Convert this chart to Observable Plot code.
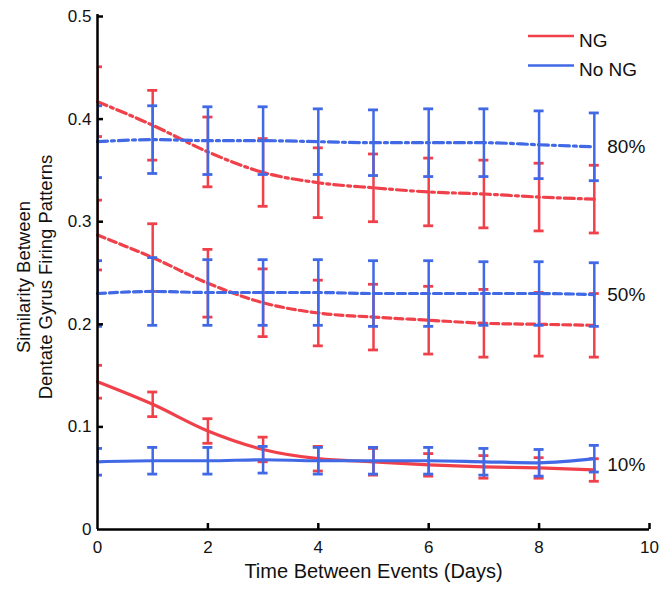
<!DOCTYPE html>
<html><head><meta charset="utf-8">
<script src="https://cdn.jsdelivr.net/npm/d3@7"></script>
<script src="https://cdn.jsdelivr.net/npm/@observablehq/plot@0.6"></script>
<style>
body{margin:0;background:#fff;}
#chart{position:relative;width:660px;height:589px;}
</style>
</head><body><div id="chart"></div>
<script>
const days = [0,1,2,3,4,5,6,7,8,9];
const groups = ["NG", "No NG"];
const levels = ["80%", "50%", "10%"];
// NG (red)
const ng80 =      [0.417,0.394,0.368,0.348,0.338,0.333,0.329,0.327,0.324,0.322];
const ng80Err =   [0.034,0.034,0.034,0.033,0.034,0.033,0.033,0.033,0.033,0.033];
const ng50 =      [0.287,0.265,0.240,0.221,0.211,0.207,0.204,0.201,0.200,0.199];
const ng50Err =   [0.034,0.033,0.033,0.033,0.032,0.032,0.033,0.033,0.031,0.031];
const ng10 =      [0.144,0.122,0.096,0.078,0.069,0.066,0.063,0.061,0.060,0.058];
const ng10Err =   [0.016,0.012,0.012,0.012,0.012,0.013,0.011,0.011,0.010,0.011];
// No NG (blue)
const noNg80 =    [0.378,0.380,0.379,0.379,0.378,0.377,0.377,0.377,0.375,0.373];
const noNg80Err = [0.035,0.033,0.033,0.033,0.032,0.032,0.033,0.033,0.033,0.033];
const noNg50 =    [0.230,0.232,0.231,0.231,0.231,0.230,0.230,0.230,0.230,0.229];
const noNg50Err = [0.032,0.033,0.032,0.032,0.032,0.032,0.032,0.031,0.031,0.031];
const noNg10 =    [0.066,0.067,0.067,0.068,0.067,0.067,0.067,0.066,0.065,0.069];
const noNg10Err = [0.013,0.013,0.013,0.013,0.013,0.013,0.013,0.013,0.013,0.013];

const xTicks = [0,2,4,6,8,10];
const yTicks = [0,0.1,0.2,0.3,0.4,0.5];
const levelLabels = ["80%", "50%", "10%"];
const levelLabelY = [0.373, 0.229, 0.063];
const xTitle = "Time Between Events (Days)";
const yTitleLines = ["Similarity Between", "Dentate Gyrus Firing Patterns"];

const colors = {"NG": "#f0414b", "No NG": "#4169e6"};
const dashes = {"80%": "10,4,3,4", "50%": "8,4", "10%": null};

const series = {
  "NG": [[ng80, ng80Err], [ng50, ng50Err], [ng10, ng10Err]],
  "No NG": [[noNg80, noNg80Err], [noNg50, noNg50Err], [noNg10, noNg10Err]]
};
const rows = [];
for (const g of groups) {
  levels.forEach((lv, li) => {
    const [m, e] = series[g][li];
    days.forEach((d, i) => rows.push({group: g, level: lv, day: d, mean: m[i], lo: m[i] - e[i], hi: m[i] + e[i]}));
  });
}

const font = "'Liberation Sans', Arial, Helvetica, sans-serif";
const marks = [];
for (const g of groups) {
  const gr = rows.filter(r => r.group === g);
  const c = colors[g];
  marks.push(Plot.ruleX(gr, {x: "day", y1: "lo", y2: "hi", stroke: c, strokeWidth: 2.5, clip: true}));
  marks.push(Plot.ruleY(gr, {y: "hi", x1: "day", x2: "day", insetLeft: -5, insetRight: -5, stroke: c, strokeWidth: 2.8, clip: true}));
  marks.push(Plot.ruleY(gr, {y: "lo", x1: "day", x2: "day", insetLeft: -5, insetRight: -5, stroke: c, strokeWidth: 2.8, clip: true}));
  for (const lv of levels) {
    marks.push(Plot.line(gr.filter(r => r.level === lv), {
      x: "day", y: "mean", stroke: c, strokeWidth: 3.2,
      strokeDasharray: dashes[lv], curve: "monotone-x"
    }));
  }
}
// level labels
marks.push(Plot.text(levelLabels, {
  x: () => days[days.length - 1], y: (d, i) => levelLabelY[i], text: d => d,
  dx: 13, textAnchor: "start", fontSize: 19, fill: "#111"
}));
// axes lines and inward ticks
marks.push(Plot.ruleX([xTicks[0]], {x: d => d, stroke: "#000", strokeWidth: 2.5, insetTop: -2}));
marks.push(Plot.ruleY([yTicks[0]], {y: d => d, stroke: "#000", strokeWidth: 2.5}));
marks.push(Plot.ruleY(yTicks.slice(1), {y: d => d, x1: xTicks[0], x2: xTicks[0], insetRight: -6, stroke: "#000", strokeWidth: 2.5}));
marks.push(Plot.ruleX(xTicks.slice(1), {x: d => d, y1: yTicks[0], y2: yTicks[0], insetBottom: 6, stroke: "#000", strokeWidth: 2.5}));
marks.push(Plot.axisY({ticks: yTicks, tickSize: 0, tickPadding: 6, tickFormat: d => String(d), fontSize: 17, label: null}));
marks.push(Plot.axisX({ticks: xTicks, tickSize: 0, tickPadding: 11, tickFormat: d => String(d), fontSize: 17, label: null}));
marks.push(Plot.text([xTitle], {frameAnchor: "bottom", dy: 48, text: d => d, fontSize: 20, fill: "#111"}));

const plot = Plot.plot({
  width: 660, height: 589,
  marginLeft: 97, marginRight: 11, marginTop: 16, marginBottom: 60,
  x: {domain: [0, 10], axis: null},
  y: {domain: [0, 0.5], axis: null},
  style: {fontFamily: font, background: "#fff", color: "#111", overflow: "visible"},
  marks
});
document.getElementById("chart").appendChild(plot);

const svg = d3.select(plot);
// y-axis title (two lines, rotated)
const yt = svg.append("g").attr("font-family", font).attr("font-size", 18.5).attr("fill", "#111").attr("text-anchor", "middle");
yTitleLines.forEach((t, i) => {
  yt.append("text").attr("transform", `translate(${30 + i * 22},277) rotate(-90)`).text(t);
});
// legend
const lg = svg.append("g").attr("font-family", font).attr("font-size", 19).attr("fill", "#111").attr("text-anchor", "start");
groups.forEach((g, i) => {
  const y = 36 + i * 29.5;
  lg.append("line").attr("x1", 528).attr("x2", 574).attr("y1", y).attr("y2", y)
    .attr("stroke", colors[g]).attr("stroke-width", 2.5);
  lg.append("text").attr("x", 579).attr("y", y + 4).attr("dy", "0.35em").text(g);
});
</script>
</body></html>
